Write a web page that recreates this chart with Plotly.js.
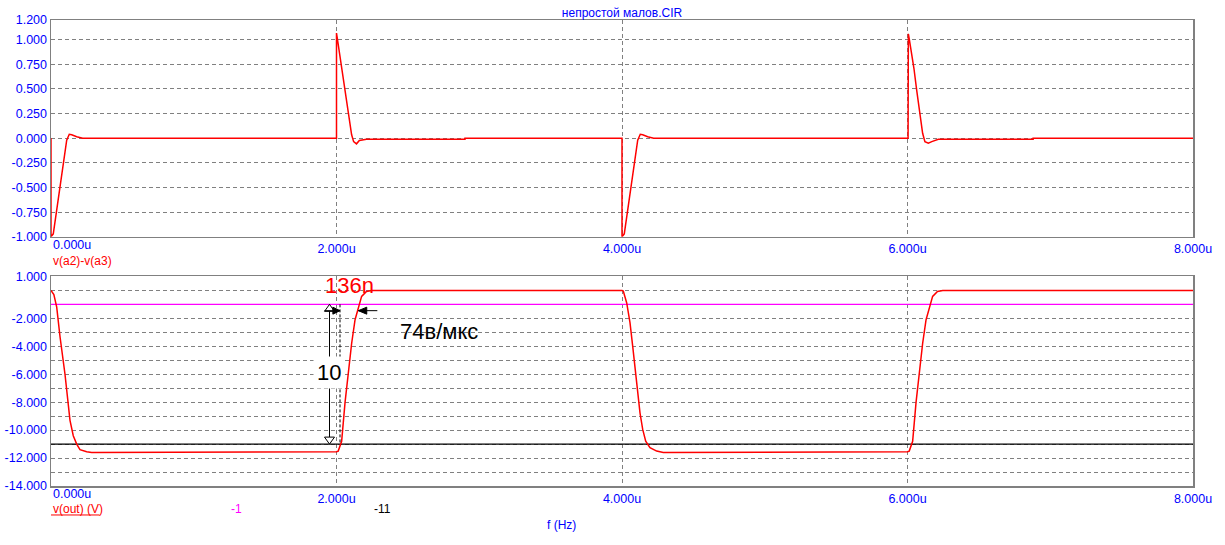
<!DOCTYPE html>
<html>
<head>
<meta charset="utf-8">
<script src="https://cdn.plot.ly/plotly-3.0.1.min.js"></script>
<style>html,body{margin:0;padding:0;background:#fff;}#chart{width:1225px;height:545px;}</style>
</head>
<body>
<div id="chart"></div>
<script>
// ---- data (time in microseconds) ----
var chartTitle = "непростой малов.CIR";

// top trace: v(a2)-v(a3)
var tTop = [0, 0.0, 0.016, 0.04, 0.063, 0.086, 0.11, 0.128, 0.145, 0.18, 0.222,
  2.0, 2.0, 2.007, 2.019, 2.038, 2.054, 2.07, 2.09, 2.106, 2.12, 2.14, 2.16, 2.21, 2.9, 2.9,
  4.0, 4.0, 4.016, 4.04, 4.063, 4.086, 4.11, 4.128, 4.145, 4.18, 4.222,
  6.004, 6.006, 6.013, 6.029, 6.045, 6.064, 6.08, 6.095, 6.106, 6.122, 6.146, 6.17, 6.2, 6.216, 6.88, 6.88, 8.0];
var vTop = [0, -1.0, -0.97, -0.72, -0.5, -0.25, -0.02, 0.04, 0.035, 0.015, 0.0,
  0.0, 1.067, 1.0, 0.88, 0.71, 0.576, 0.42, 0.22, 0.035, -0.034, -0.057, -0.023, -0.01, -0.01, 0.0,
  0.0, -1.0, -0.97, -0.72, -0.5, -0.25, -0.02, 0.04, 0.035, 0.015, 0.0,
  0.0, 1.06, 1.0, 0.864, 0.71, 0.49, 0.32, 0.187, 0.05, -0.034, -0.05, -0.034, -0.016, -0.01, -0.01, 0.0, 0.0];

// bottom trace: v(out)
var tOut = [0, 0.02, 0.04, 0.063, 0.098, 0.121, 0.133, 0.156, 0.18, 0.203, 0.25, 0.285, 1.184, 1.184,
  2.0, 2.012, 2.036, 2.06, 2.083, 2.106, 2.13, 2.153, 2.176, 2.21, 2.247,
  4.0, 4.009, 4.033, 4.056, 4.075, 4.091, 4.107, 4.126, 4.145, 4.166, 4.196, 4.243, 4.289, 5.21, 5.21,
  6.0, 6.012, 6.036, 6.06, 6.083, 6.106, 6.13, 6.153, 6.176, 6.21, 6.247, 8.0];
var vOut = [0, -0.3, -1.2, -3.3, -6.0, -8.0, -9.3, -10.4, -11.0, -11.4, -11.55, -11.6, -11.6, -11.55,
  -11.55, -11.5, -10.8, -8.0, -5.7, -3.8, -2.1, -1.26, -0.43, -0.07, 0.0,
  0.0, -0.05, -0.9, -2.3, -4.0, -5.66, -7.1, -8.76, -9.95, -10.8, -11.26, -11.5, -11.6, -11.6, -11.55,
  -11.55, -11.5, -10.8, -8.0, -5.7, -3.8, -2.1, -1.26, -0.43, -0.07, 0.0, 0.0];

// horizontal reference levels
var levelPink = -1;
var levelBlack = -11;
var tSpan = [0, 8];

// measurement values
var riseTimeLabel = "136n";
var slewLabel = "74в/мкс";
var deltaLabel = "10";

// tick labels
var xTickVals = [2, 4, 6, 8];
var xTickText = ["2.000u", "4.000u", "6.000u", "8.000u"];
var xFirstLabel = "0.000u";
var topTickVals = [1.2, 1.0, 0.75, 0.5, 0.25, 0.0, -0.25, -0.5, -0.75, -1.0];
var topTickText = ["1.200", "1.000", "0.750", "0.500", "0.250", "0.000", "-0.250", "-0.500", "-0.750", "-1.000"];
var botTickVals = [1, 0, -1, -2, -3, -4, -5, -6, -7, -8, -9, -10, -11, -12, -13, -14];
var botTickText = ["1.000", "", "", "-2.000", "", "-4.000", "", "-6.000", "", "-8.000", "", "-10.000", "", "-12.000", "", "-14.000"];

// ---- styling ----
var FONT = "Liberation Sans, Arial, sans-serif";
var BLUE = "#0000ff";
var GRID = "#808080";
var TICKSIZE = 12.5;

function px2paperY(py) { return (486.5 - py) / 466.5; }
function px2paperX(px) { return (px - 51) / 1142; }

var traces = [
  {x: tTop, y: vTop, xaxis: "x", yaxis: "y", mode: "lines", line: {color: "#ff0000", width: 1.5}},
  {x: tSpan, y: [levelPink, levelPink], xaxis: "x2", yaxis: "y2", mode: "lines", line: {color: "#ff00ff", width: 1.2}},
  {x: tSpan, y: [levelBlack, levelBlack], xaxis: "x2", yaxis: "y2", mode: "lines", line: {color: "#000000", width: 1.2}},
  {x: tOut, y: vOut, xaxis: "x2", yaxis: "y2", mode: "lines", line: {color: "#ff0000", width: 1.5}}
];

function xAxis(anchor) {
  return {
    anchor: anchor, domain: [0, 1], range: [0, 8],
    tickvals: xTickVals, ticktext: xTickText, ticks: "",
    tickfont: {family: FONT, size: TICKSIZE, color: BLUE},
    showgrid: true, gridcolor: GRID, griddash: "4px,3px", gridwidth: 1,
    showline: true, mirror: true, linecolor: GRID, linewidth: 1.5,
    zeroline: false, fixedrange: true
  };
}
function yAxis(anchor, domain, range, vals, text) {
  return {
    anchor: anchor, domain: domain, range: range,
    tickvals: vals, ticktext: text, ticks: "",
    tickfont: {family: FONT, size: TICKSIZE, color: BLUE},
    showgrid: true, gridcolor: GRID, griddash: "4px,3px", gridwidth: 1,
    showline: true, mirror: true, linecolor: GRID, linewidth: 1.5,
    zeroline: false, fixedrange: true
  };
}

// measurement geometry (data coords of bottom plot)
var tArrow = 1.951, tDash = 2.0245, tLeftTip = 2.153, yMeas = -1.45;
var headW = 0.035, headH = 0.5, hHeadL = 0.05, hHeadH = 0.25;

var shapes = [
  // vertical double arrow
  {type: "line", xref: "x2", yref: "y2", x0: tArrow, x1: tArrow, y0: levelPink, y1: levelBlack, line: {color: "#000", width: 1}},
  {type: "path", xref: "x2", yref: "y2",
   path: "M " + (tArrow - headW) + "," + (levelPink - headH) + " L " + tArrow + "," + levelPink + " L " + (tArrow + headW) + "," + (levelPink - headH) + " Z",
   fillcolor: "#fff", line: {color: "#000", width: 1}},
  {type: "path", xref: "x2", yref: "y2",
   path: "M " + (tArrow - headW) + "," + (levelBlack + headH) + " L " + tArrow + "," + levelBlack + " L " + (tArrow + headW) + "," + (levelBlack + headH) + " Z",
   fillcolor: "#fff", line: {color: "#000", width: 1}},
  // dashed vertical at crossing of -11
  {type: "line", xref: "x2", yref: "y2", x0: tDash, x1: tDash, y0: levelPink, y1: levelBlack, line: {color: "#000", width: 1, dash: "3px,2px"}},
  // right-pointing arrow
  {type: "line", xref: "x2", yref: "y2", x0: 1.916, x1: tDash, y0: yMeas, y1: yMeas, line: {color: "#000", width: 1}},
  {type: "path", xref: "x2", yref: "y2",
   path: "M " + (tDash - hHeadL) + "," + (yMeas + hHeadH) + " L " + tDash + "," + yMeas + " L " + (tDash - hHeadL) + "," + (yMeas - hHeadH) + " Z",
   fillcolor: "#000", line: {color: "#000", width: 1}},
  // left-pointing arrow
  {type: "line", xref: "x2", yref: "y2", x0: tLeftTip, x1: 2.286, y0: yMeas, y1: yMeas, line: {color: "#000", width: 1}},
  {type: "path", xref: "x2", yref: "y2",
   path: "M " + (tLeftTip + 0.059) + "," + (yMeas + hHeadH) + " L " + tLeftTip + "," + yMeas + " L " + (tLeftTip + 0.059) + "," + (yMeas - hHeadH) + " Z",
   fillcolor: "#000", line: {color: "#000", width: 1}},
  // underline of v(out) (V)
  {type: "line", xref: "paper", yref: "paper", x0: 0, x1: px2paperX(99.5), y0: px2paperY(515.5), y1: px2paperY(515.5), line: {color: "#ff0000", width: 1}}
];

var annotations = [
  {xref: "paper", yref: "paper", x: 0, y: px2paperY(245.5), xanchor: "left", yanchor: "middle", text: xFirstLabel, showarrow: false, font: {family: FONT, size: TICKSIZE, color: BLUE}},
  {xref: "paper", yref: "paper", x: 0, y: px2paperY(494.5), xanchor: "left", yanchor: "middle", text: xFirstLabel, showarrow: false, font: {family: FONT, size: TICKSIZE, color: BLUE}},
  {xref: "paper", yref: "paper", x: 0, y: px2paperY(261.5), xanchor: "left", yanchor: "middle", text: "v(a2)-v(a3)", showarrow: false, font: {family: FONT, size: 12, color: "#ff0000"}},
  {xref: "paper", yref: "paper", x: 0, y: px2paperY(510), xanchor: "left", yanchor: "middle", text: "v(out) (V)", showarrow: false, font: {family: FONT, size: 12, color: "#ff0000"}},
  {xref: "paper", yref: "paper", x: px2paperX(236), y: px2paperY(510), xanchor: "center", yanchor: "middle", text: String(levelPink), showarrow: false, font: {family: FONT, size: 12, color: "#ff00ff"}},
  {xref: "paper", yref: "paper", x: px2paperX(382.5), y: px2paperY(510), xanchor: "center", yanchor: "middle", text: String(levelBlack), showarrow: false, font: {family: FONT, size: 12, color: "#000"}},
  {xref: "paper", yref: "paper", x: px2paperX(561), y: px2paperY(525.5), xanchor: "center", yanchor: "middle", text: "f (Hz)", showarrow: false, font: {family: FONT, size: 12, color: BLUE}},
  {xref: "x2", yref: "y2", x: 2.088, y: 0.357, xanchor: "center", yanchor: "middle", text: riseTimeLabel, showarrow: false, font: {family: FONT, size: 22, color: "#ff0000"}},
  {xref: "x2", yref: "y2", x: 2.718, y: -2.93, xanchor: "center", yanchor: "middle", text: slewLabel, showarrow: false, font: {family: FONT, size: 22, color: "#000"}},
  {xref: "x2", yref: "y2", x: 1.947, y: -5.905, xanchor: "center", yanchor: "middle", text: deltaLabel, showarrow: false, bgcolor: "#fff", borderpad: 3, font: {family: FONT, size: 22, color: "#000"}}
];

var layout = {
  width: 1225, height: 545,
  margin: {l: 51, r: 32, t: 20, b: 58.5, pad: 0},
  paper_bgcolor: "#fff", plot_bgcolor: "#fff",
  showlegend: false,
  font: {family: FONT, size: 12, color: BLUE},
  title: {text: chartTitle, font: {family: FONT, size: 12, color: BLUE}, x: 0.5, xref: "paper", xanchor: "center", y: 1 - 13 / 545, yref: "container", yanchor: "middle"},
  xaxis: xAxis("y"),
  yaxis: yAxis("x", [0.5348, 1], [-1, 1.2], topTickVals, topTickText),
  xaxis2: xAxis("y2"),
  yaxis2: yAxis("x2", [0, 0.4497], [-14, 1], botTickVals, botTickText),
  shapes: shapes,
  annotations: annotations
};

Plotly.newPlot("chart", traces, layout, {staticPlot: true, displayModeBar: false});
</script>
</body>
</html>
